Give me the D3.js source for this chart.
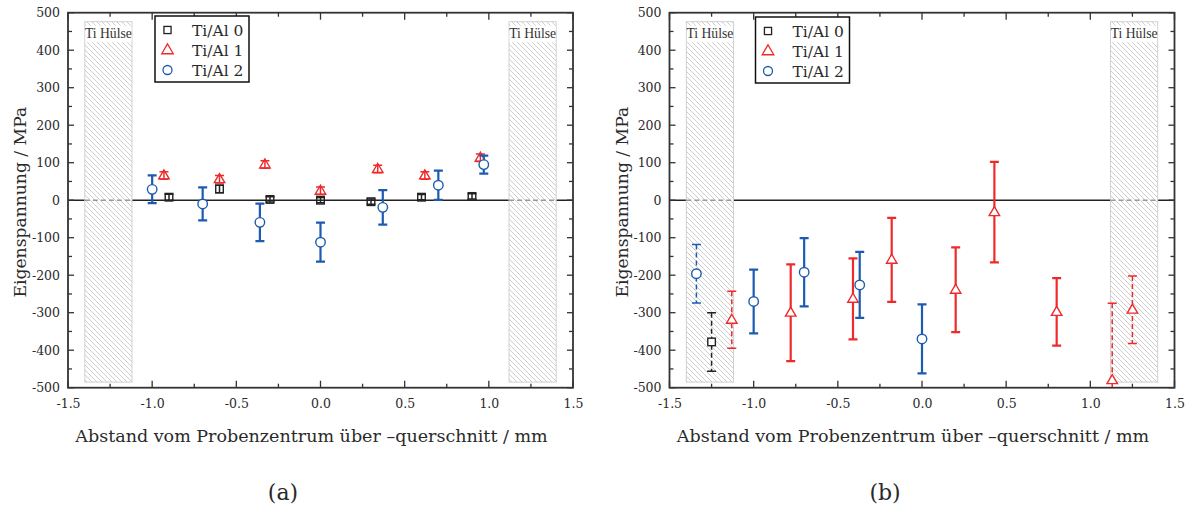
<!DOCTYPE html>
<html><head><meta charset="utf-8">
<script src="https://cdn.jsdelivr.net/npm/d3@7"></script>
<style>body{margin:0;background:#fff} text{font-family:"DejaVu Serif",serif;fill:#2a2a2a}</style>
</head><body><svg id="c" width="1192" height="510"></svg>
<script>
// ---------- data ----------
const xTickValues = [-1.5, -1.0, -0.5, 0.0, 0.5, 1.0, 1.5];
const yTickValues = [-500, -400, -300, -200, -100, 0, 100, 200, 300, 400, 500];
const seriesNames = ["Ti/Al 0", "Ti/Al 1", "Ti/Al 2"];
const sleeveRanges = [[-1.4, -1.12], [1.12, 1.4]];
const sleeveSpan = [-485, 476];
const sleeveLabel = "Ti Hülse";
const xTitle = "Abstand vom Probenzentrum über –querschnitt / mm";
const yTitle = "Eigenspannung / MPa";
const panelLabels = ["(a)", "(b)"];

// panel (a)
const a0x = [-0.9, -0.6, -0.3, 0.0, 0.3, 0.6, 0.9];
const a0y = [8, 30, 2, 0, -4, 8, 10];
const a0e = [8, 10, 7, 7, 7, 7, 7];
const a1x = [-0.93, -0.6, -0.33, 0.0, 0.34, 0.62, 0.95];
const a1y = [66, 56, 95, 25, 83, 66, 113];
const a1e = [10, 10, 10, 10, 10, 10, 10];
const a2x = [-1.0, -0.7, -0.36, 0.0, 0.37, 0.70, 0.97];
const a2y = [29, -10, -59, -112, -19, 40, 95];
const a2e = [37, 44, 50, 52, 46, 39, 24];

// panel (b)
const b0x = [-1.25];
const b0y = [-378];
const b0e = [78];
const b1x = [-1.13, -0.78, -0.41, -0.18, 0.2, 0.43, 0.8, 1.13, 1.25];
const b1y = [-319, -300, -263, -159, -239, -32, -298, -480, -292];
const b1e = [76, 129, 108, 112, 113, 134, 90, 205, 90];
const b2x = [-1.34, -1.0, -0.7, -0.37, 0.0];
const b2y = [-196, -270, -192, -226, -370];
const b2e = [78, 85, 91, 88, 92];

// ---------- drawing ----------
const colors = ["#222222", "#ee2a2a", "#1c5bb0"];
const shapes = ["square", "triangle", "circle"];
const svg = d3.select("#c");

function fitText(sel, target) {
  const n = sel.node();
  const len = n.getComputedTextLength();
  const fs = parseFloat(sel.attr("font-size"));
  if (len > 0) sel.attr("font-size", fs * target / len);
}

const defs = svg.append("defs");
const pat = defs.append("pattern").attr("id", "hatch").attr("patternUnits", "userSpaceOnUse")
  .attr("width", 5).attr("height", 5);
pat.append("rect").attr("width", 5).attr("height", 5).attr("fill", "#fff");
pat.append("path").attr("d", "M-1,-1 L6,6 M-1,4 L1,6 M4,-1 L6,1").attr("stroke", "#c2c2c2").attr("stroke-width", 0.8);

function marker(g, shape, cx, cy, s, color, fill, sw) {
  if (shape === "circle") {
    g.append("circle").attr("cx", cx).attr("cy", cy).attr("r", s * 0.5)
      .attr("fill", fill).attr("stroke", color).attr("stroke-width", sw);
  } else if (shape === "square") {
    g.append("rect").attr("x", cx - s * 0.42).attr("y", cy - s * 0.42).attr("width", s * 0.84).attr("height", s * 0.84)
      .attr("fill", fill).attr("stroke", color).attr("stroke-width", sw);
  } else {
    const h = s * 0.9, w = s * 1.05;
    g.append("path").attr("d", `M${cx},${cy - h * 0.62} L${cx + w / 2},${cy + h * 0.38} L${cx - w / 2},${cy + h * 0.38} Z`)
      .attr("fill", fill).attr("stroke", color).attr("stroke-width", sw);
  }
}

const hyphenFmt = f => (d => f(d).replace("\u2212", "-"));

function drawPanel(id, left, right, series, legendPos, label, labelX, overlayMarkers) {
  const top = 12.7, bottom = 387.7;
  const x = d3.scaleLinear().domain([-1.5, 1.5]).range([left, right]);
  const y = d3.scaleLinear().domain([-500, 500]).range([bottom, top]);
  const g = svg.append("g");

  defs.append("clipPath").attr("id", "clip" + id).append("rect")
    .attr("x", left).attr("y", top).attr("width", right - left).attr("height", bottom - top);

  // zero line
  g.append("line").attr("x1", left).attr("x2", right).attr("y1", y(0)).attr("y2", y(0))
    .attr("stroke", "#222").attr("stroke-width", 1.6);

  // sleeves
  sleeveRanges.forEach(r => {
    const sx = x(r[0]), sw = x(r[1]) - x(r[0]);
    const st = y(sleeveSpan[1]);
    g.append("rect").attr("x", sx).attr("y", st).attr("width", sw)
      .attr("height", y(sleeveSpan[0]) - st)
      .attr("fill", "url(#hatch)").attr("stroke", "#d0d0d0").attr("stroke-width", 1);
    g.append("line").attr("x1", sx).attr("x2", sx + sw).attr("y1", y(0)).attr("y2", y(0))
      .attr("stroke", "#999").attr("stroke-width", 1.4).attr("stroke-dasharray", "5,3");
    g.append("rect").attr("x", sx + 0.5).attr("y", st + 4).attr("width", sw - 1).attr("height", 16.5).attr("fill", "#fff");
    const t = g.append("text").attr("x", sx + sw / 2).attr("y", st + 16.2).attr("text-anchor", "middle")
      .attr("font-size", 13.5).attr("font-family", "Liberation Serif").style("font-family", "Liberation Serif")
      .style("fill", "#333").text(sleeveLabel);
    fitText(t, 47);
  });

  // data
  const dg = g.append("g").attr("clip-path", `url(#clip${id})`);
  series.forEach((s, si) => {
    const col = colors[si];
    s.xs.forEach((xv, i) => {
      const inSleeve = Math.abs(xv) > 1.1;
      const px = x(xv);
      const yt = y(s.ys[i] + s.es[i]), yb = y(s.ys[i] - s.es[i]);
      const sw = inSleeve ? 1.5 : (overlayMarkers[si] ? 1.5 : 2.2);
      const eg = dg.append("g").attr("stroke", col).attr("stroke-width", sw);
      eg.append("line").attr("x1", px).attr("x2", px).attr("y1", yt).attr("y2", yb)
        .attr("stroke-dasharray", inSleeve ? "5,3" : null);
      eg.append("line").attr("x1", px - 4.5).attr("x2", px + 4.5).attr("y1", yt).attr("y2", yt);
      eg.append("line").attr("x1", px - 4.5).attr("x2", px + 4.5).attr("y1", yb).attr("y2", yb);
      const size = shapes[si] === "circle" ? 9.5 : (shapes[si] === "triangle" ? 10 : 9);
      marker(dg, shapes[si], px, y(s.ys[i]), size, col, overlayMarkers[si] ? "none" : "#fff", 1.4);
    });
  });

  // axes frame
  const axCol = "#333";
  const xMinor = d3.range(-1.5, 1.5001, 0.25);
  const yMinor = d3.range(-500, 500.1, 50);
  const ag = g.append("g").attr("stroke", axCol);
  xMinor.forEach(v => {
    const major = Math.abs(v * 2 - Math.round(v * 2)) < 1e-6;
    const len = major ? 7 : 4;
    ag.append("line").attr("x1", x(v)).attr("x2", x(v)).attr("y1", bottom).attr("y2", bottom - len).attr("stroke-width", 1.3);
    ag.append("line").attr("x1", x(v)).attr("x2", x(v)).attr("y1", top).attr("y2", top + len).attr("stroke-width", 1.3);
  });
  yMinor.forEach(v => {
    const major = Math.abs(v % 100) < 1e-6;
    const len = major ? 6 : 4;
    ag.append("line").attr("x1", left).attr("x2", left + len).attr("y1", y(v)).attr("y2", y(v)).attr("stroke-width", 1.3);
    ag.append("line").attr("x1", right).attr("x2", right - len).attr("y1", y(v)).attr("y2", y(v)).attr("stroke-width", 1.3);
  });
  g.append("rect").attr("x", left).attr("y", top).attr("width", right - left).attr("height", bottom - top)
    .attr("fill", "none").attr("stroke", axCol).attr("stroke-width", 1.8);

  // tick labels via d3 axes (lines hidden)
  const xa = g.append("g").attr("transform", `translate(0,${bottom})`)
    .call(d3.axisBottom(x).tickValues(xTickValues).tickFormat(hyphenFmt(d3.format(".1f"))).tickSize(0).tickPadding(11));
  xa.select(".domain").remove();
  xa.selectAll("text").attr("font-size", 12.5).attr("font-family", "DejaVu Serif").style("fill", "#2a2a2a");
  const ya = g.append("g").attr("transform", `translate(${left},0)`)
    .call(d3.axisLeft(y).tickValues(yTickValues).tickFormat(hyphenFmt(d3.format("d"))).tickSize(0).tickPadding(8));
  ya.select(".domain").remove();
  ya.selectAll("text").attr("font-size", 12.5).attr("font-family", "DejaVu Serif").style("fill", "#2a2a2a");

  // titles
  const xt = g.append("text").attr("x", (left + right) / 2 - 9).attr("y", 442).attr("text-anchor", "middle")
    .attr("font-size", 17.5).text(xTitle);
  fitText(xt, 473);
  const yt = g.append("text").attr("transform", `translate(${left - 42},${(top + bottom) / 2 + 2}) rotate(-90)`)
    .attr("text-anchor", "middle").attr("font-size", 17.5).text(yTitle);
  fitText(yt, 191);
  g.append("text").attr("x", labelX).attr("y", 500).attr("text-anchor", "middle")
    .attr("font-size", 22).text(label);

  // legend
  const [lx, ly] = legendPos;
  g.append("rect").attr("x", lx).attr("y", ly).attr("width", 94).attr("height", 66)
    .attr("fill", "#fff").attr("stroke", "#111").attr("stroke-width", 1.5);
  seriesNames.forEach((n, i) => {
    const cy = ly + 14 + i * 20;
    const size = shapes[i] === "circle" ? 9 : (shapes[i] === "triangle" ? 11 : 8.5);
    marker(g, shapes[i], lx + 12.5, cy, size, colors[i], "#fff", 1.3);
    g.append("text").attr("x", lx + 37).attr("y", cy + 6).attr("font-size", 15.5).text(n);
  });
}

drawPanel("a", 68, 573, [
  {xs: a0x, ys: a0y, es: a0e},
  {xs: a1x, ys: a1y, es: a1e},
  {xs: a2x, ys: a2y, es: a2e}
], [155, 16], panelLabels[0], 283, [true, true, false]);

drawPanel("b", 669.5, 1174.5, [
  {xs: b0x, ys: b0y, es: b0e},
  {xs: b1x, ys: b1y, es: b1e},
  {xs: b2x, ys: b2y, es: b2e}
], [755.5, 17], panelLabels[1], 885, [false, false, false]);
</script></body></html>
